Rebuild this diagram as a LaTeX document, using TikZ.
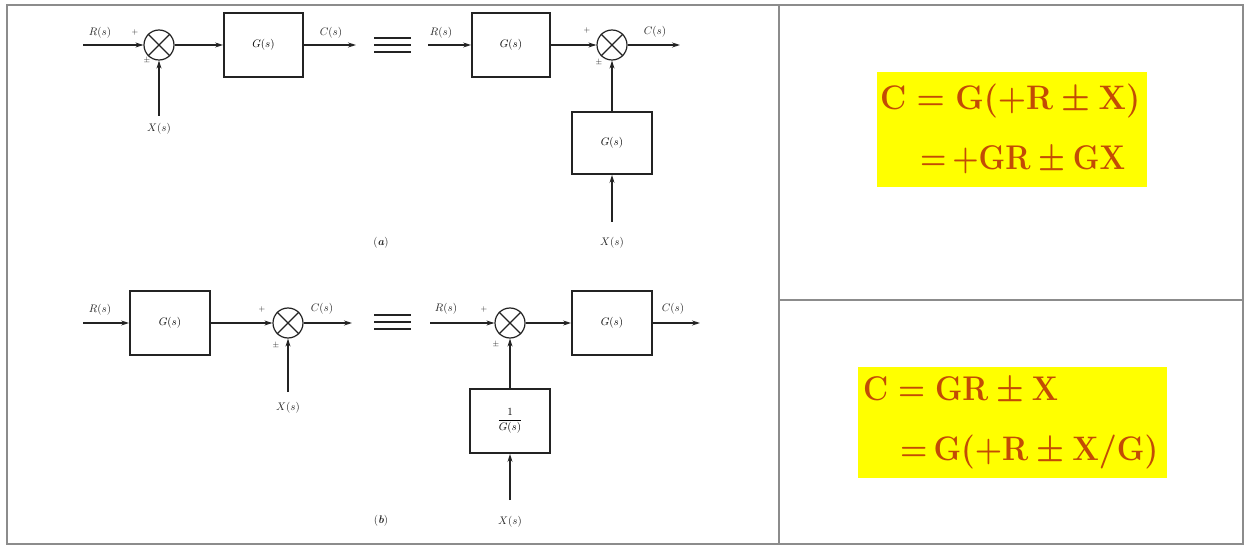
\documentclass[tikz,border=0pt]{standalone}
\usetikzlibrary{arrows.meta}
\definecolor{framegray}{RGB}{140,140,140}
\definecolor{eqcol}{RGB}{195,75,5}
\definecolor{eqyellow}{RGB}{255,255,0}
\definecolor{ink}{RGB}{35,35,35}
\newcommand{\eqln}[3]{\resizebox{#1}{#2}{\fontsize{30}{36}\selectfont\boldmath$\mathbf{#3}$}}
\begin{document}
\begin{tikzpicture}[x=1pt,y=-1pt,
  sig/.style={draw=ink, line width=1.1pt, -{Stealth[length=8pt,width=5pt]}},
  plain/.style={draw=ink, line width=1.1pt},
  blk/.style={draw=ink, line width=1.9pt, inner sep=0pt, font=\fontsize{11}{13}\selectfont},
  sumj/.style={circle, draw=ink, line width=1.2pt, minimum size=30pt, inner sep=0pt},
  lbl/.style={inner sep=0pt, font=\fontsize{11}{13}\selectfont, text=ink},
  sgn/.style={inner sep=0pt, font=\fontsize{8}{9}\selectfont, text=ink},
  frm/.style={draw=framegray, line width=2pt},
  ybox/.style={fill=eqyellow, inner sep=0pt, draw=none},
  eqtxt/.style={inner sep=0pt, text=eqcol, anchor=base west}
]
\useasboundingbox (0,0) rectangle (1245,548);

% ---------- frame ----------
\draw[frm] (7,5) rectangle (1243,544);
\draw[frm] (779,5) -- (779,544);
\draw[frm] (779,300) -- (1243,300);

% ---------- (a) left ----------
\coordinate (rA1) at (83,45);
\node[sumj] (sA1) at (159,45) {};
\node[blk, minimum width=79pt, minimum height=64pt] (gA1) at (263.5,45) {$G(s)$};
\coordinate (cA1) at (356,45);
\coordinate (xA1) at (159,116);
\node[lbl] (lrA1) at (100,33) {$R(s)$};
\node[lbl] (lcA1) at (331,33) {$C(s)$};
\node[lbl] (lxA1) at (159,129) {$X(s)$};
\node[sgn] (pA1) at (135,33) {$+$};
\node[sgn] (mA1) at (147,61) {$\pm$};
\draw[sig] (rA1) -- (sA1.west);
\draw[sig] (sA1.east) -- (gA1.west);
\draw[sig] (gA1.east) -- (cA1);
\draw[sig] (xA1) -- (sA1.south);

% equivalence sign (a)
\draw[plain] (374,38) -- (411,38);
\draw[plain] (374,45) -- (411,45);
\draw[plain] (374,52) -- (411,52);

% ---------- (a) right ----------
\coordinate (rA2) at (428,45);
\node[blk, minimum width=78pt, minimum height=64pt] (gA2) at (511,45) {$G(s)$};
\node[sumj] (sA2) at (612,45) {};
\coordinate (cA2) at (680,45);
\node[blk, minimum width=80pt, minimum height=62pt] (gA3) at (612,143) {$G(s)$};
\coordinate (xA2) at (612,222);
\node[lbl] (lrA2) at (441,33) {$R(s)$};
\node[lbl] (lcA2) at (655,32) {$C(s)$};
\node[lbl] (lxA2) at (612,243) {$X(s)$};
\node[sgn] (pA2) at (587,31) {$+$};
\node[sgn] (mA2) at (599,63) {$\pm$};
\draw[sig] (rA2) -- (gA2.west);
\draw[sig] (gA2.east) -- (sA2.west);
\draw[sig] (sA2.east) -- (cA2);
\draw[sig] (gA3.north) -- (sA2.south);
\draw[sig] (xA2) -- (gA3.south);
\node[lbl] (capA) at (381,243) {(\textbf{\textit{a}})};

% ---------- (b) left ----------
\coordinate (rB1) at (83,323);
\node[blk, minimum width=80pt, minimum height=64pt] (gB1) at (170,323) {$G(s)$};
\node[sumj] (sB1) at (288,323) {};
\coordinate (cB1) at (352,323);
\coordinate (xB1) at (288,392);
\node[lbl] (lrB1) at (100,310) {$R(s)$};
\node[lbl] (lcB1) at (322,309) {$C(s)$};
\node[lbl] (lxB1) at (288,408) {$X(s)$};
\node[sgn] (pB1) at (262,309) {$+$};
\node[sgn] (mB1) at (276,345) {$\pm$};
\draw[sig] (rB1) -- (gB1.west);
\draw[sig] (gB1.east) -- (sB1.west);
\draw[sig] (sB1.east) -- (cB1);
\draw[sig] (xB1) -- (sB1.south);

% equivalence sign (b)
\draw[plain] (374,315) -- (411,315);
\draw[plain] (374,322) -- (411,322);
\draw[plain] (374,329) -- (411,329);

% ---------- (b) right ----------
\coordinate (rB2) at (430,323);
\node[sumj] (sB2) at (510,323) {};
\node[blk, minimum width=80pt, minimum height=64pt] (gB2) at (612,323) {$G(s)$};
\coordinate (cB2) at (700,323);
\node[blk, minimum width=80pt, minimum height=64pt] (gB3) at (510,421) {$\displaystyle\frac{1}{G(s)}$};
\coordinate (xB2) at (510,500);
\node[lbl] (lrB2) at (446,309) {$R(s)$};
\node[lbl] (lcB2) at (673,309) {$C(s)$};
\node[lbl] (lxB2) at (510,522) {$X(s)$};
\node[sgn] (pB2) at (484,309) {$+$};
\node[sgn] (mB2) at (496,344) {$\pm$};
\draw[sig] (rB2) -- (sB2.west);
\draw[sig] (sB2.east) -- (gB2.west);
\draw[sig] (gB2.east) -- (cB2);
\draw[sig] (gB3.north) -- (sB2.south);
\draw[sig] (xB2) -- (gB3.south);
\node[lbl] (capB) at (381,521) {(\textbf{\textit{b}})};

% summing junction crosses
\foreach \s in {sA1,sA2,sB1,sB2}{
  \draw[plain] (\s.45) -- (\s.225);
  \draw[plain] (\s.135) -- (\s.315);
}

% ---------- equations ----------
\node[ybox, minimum width=270pt, minimum height=115pt] (eqA) at (1012,129.5) {};
\node[eqtxt] (eqA1) at (880,110) {\eqln{260pt}{25.5pt}{C=G(+R\pm X)}};
\node[eqtxt] (eqA2) at (920,170) {\eqln{205pt}{23.5pt}{{=}\,{+}GR\pm GX}};
\node[ybox, minimum width=309pt, minimum height=111pt] (eqB) at (1012.5,422.5) {};
\node[eqtxt] (eqB1) at (863,400) {\eqln{195pt}{23.5pt}{C=GR\pm X}};
\node[eqtxt] (eqB2) at (900,460) {\eqln{258pt}{25.5pt}{{=}\,G(+R\pm X/G)}};
\end{tikzpicture}
\end{document}
